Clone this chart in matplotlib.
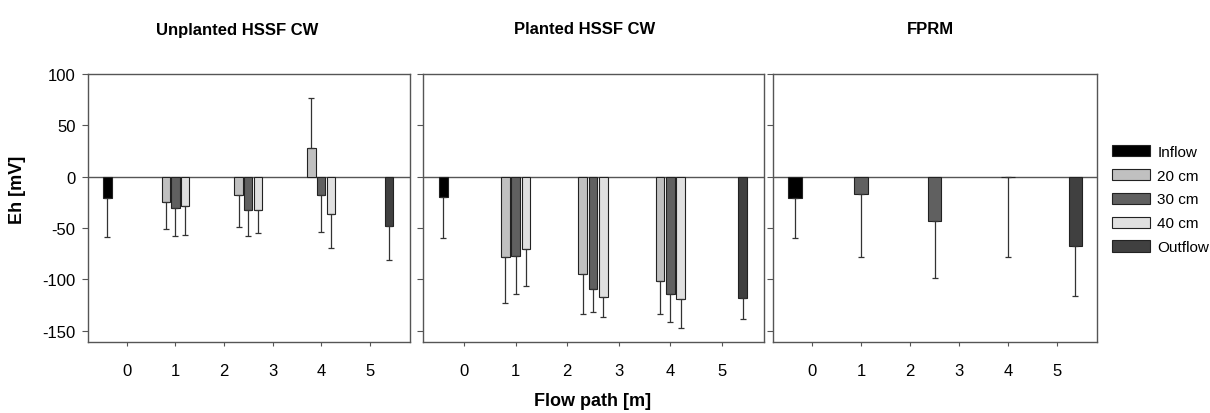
import matplotlib
matplotlib.use('Agg')
import matplotlib.pyplot as plt
from matplotlib.patches import Patch
import numpy as np

plt.rcParams['font.family'] = ['Liberation Sans Narrow', 'Liberation Sans', 'DejaVu Sans']

# Eh values (mV) and error bars
titles = ["Unplanted HSSF CW", "Planted HSSF CW", "FPRM"]
series = ["Inflow", "20 cm", "30 cm", "40 cm", "Outflow"]
xticks = [0, 1, 2, 3, 4, 5]

unpl_inflow, unpl_inflow_err = -20.5, 38.0
unpl_20 = [-24.4, -17.5, 28.2]
unpl_20_err = [26.6, 31.5, 48.8]
unpl_30 = [-30.8, -32.8, -17.5]
unpl_30_err = [27.0, 25.0, 36.4]
unpl_40 = [-28.6, -32.8, -36.7]
unpl_40_err = [28.0, 21.7, 32.5]
unpl_out, unpl_out_err = -48.1, 32.7

pl_inflow, pl_inflow_err = -20.1, 39.3
pl_20 = [-78.2, -94.8, -101.3]
pl_20_err = [45.2, 39.0, 32.5]
pl_30 = [-77.6, -109.1, -114.6]
pl_30_err = [37.0, 22.7, 27.0]
pl_40 = [-70.8, -117.5, -119.2]
pl_40_err = [35.4, 18.9, 28.5]
pl_out, pl_out_err = -118.5, 19.8

fprm_inflow, fprm_inflow_err = -20.5, 38.9
fprm_30 = [-17.2, -43.5, 0.0]
fprm_30_err = [61.4, 55.2, 78.6]
fprm_out, fprm_out_err = -67.2, 48.7

colors = {"Inflow": "#000000", "20 cm": "#c0c0c0", "30 cm": "#606060",
          "40 cm": "#e0e0e0", "Outflow": "#404040"}

group_x = np.array([1.0, 2.5, 4.0])
inflow_x = -0.4
outflow_x = 5.4


def bars(ax, x, vals, errs, color, w):
  x = np.atleast_1d(x)
  vals = np.atleast_1d(np.array(vals, dtype=float))
  errs = np.atleast_1d(np.array(errs, dtype=float))
  lo = np.where(vals <= 0, errs, 0)
  hi = np.where(vals > 0, errs, 0)
  ax.bar(x, vals, w, color=color, edgecolor="#222222", linewidth=0.8, zorder=2)
  ax.errorbar(x, vals, yerr=[lo, hi], fmt='none', ecolor="#333333",
              elinewidth=0.9, capsize=2.5, capthick=0.9, zorder=3)


fig = plt.figure(figsize=(12.1, 4.14), dpi=100)
b, h = 1 - 343 / 414, (343 - 75) / 414
ax1 = fig.add_axes([88 / 1210, b, 321.6 / 1210, h])
ax2 = fig.add_axes([422.7 / 1210, b, 341.6 / 1210, h])
ax3 = fig.add_axes([773 / 1210, b, 324 / 1210, h])

w = 0.17
bars(ax1, inflow_x, unpl_inflow, unpl_inflow_err, colors["Inflow"], w)
bars(ax1, group_x - 0.2, unpl_20, unpl_20_err, colors["20 cm"], w)
bars(ax1, group_x, unpl_30, unpl_30_err, colors["30 cm"], w)
bars(ax1, group_x + 0.2, unpl_40, unpl_40_err, colors["40 cm"], w)
bars(ax1, outflow_x, unpl_out, unpl_out_err, colors["Outflow"], w)

bars(ax2, inflow_x, pl_inflow, pl_inflow_err, colors["Inflow"], w)
bars(ax2, group_x - 0.2, pl_20, pl_20_err, colors["20 cm"], w)
bars(ax2, group_x, pl_30, pl_30_err, colors["30 cm"], w)
bars(ax2, group_x + 0.2, pl_40, pl_40_err, colors["40 cm"], w)
bars(ax2, outflow_x, pl_out, pl_out_err, colors["Outflow"], w)

w3 = 0.28
bars(ax3, -0.35, fprm_inflow, fprm_inflow_err, colors["Inflow"], w3)
bars(ax3, group_x, fprm_30, fprm_30_err, colors["30 cm"], w3)
bars(ax3, 5.38, fprm_out, fprm_out_err, colors["Outflow"], w3)

fs = 12
for i, ax in enumerate([ax1, ax2, ax3]):
  ax.axhline(0, color="#555555", linewidth=1.0, zorder=1)
  ax.set_xlim(-0.8, 5.82)
  ax.set_ylim(-161, 100)
  ax.set_xticks(xticks)
  ax.set_xticklabels([str(t) for t in xticks], fontsize=fs, family=['Liberation Sans', 'DejaVu Sans'])
  ax.set_yticks([100, 50, 0, -50, -100, -150])
  ax.tick_params(axis='x', length=3, width=0.8, pad=12, color="#555555")
  ax.tick_params(axis='y', length=4, width=0.8, pad=5, color="#555555")
  for s in ax.spines.values():
    s.set_color("#555555")
    s.set_linewidth(1.0)
  if i > 0:
    ax.set_yticklabels([])
  else:
    ax.set_yticklabels(["100", "50", "0", "-50", "-100", "-150"], fontsize=fs,
                       family=['Liberation Sans', 'DejaVu Sans'])

fig.text(237 / 1210, 1 - 30 / 414, titles[0], ha='center', va='center', fontsize=12, fontweight='bold')
fig.text(585 / 1210, 1 - 30 / 414, titles[1], ha='center', va='center', fontsize=12, fontweight='bold')
fig.text(930 / 1210, 1 - 30 / 414, titles[2], ha='center', va='center', fontsize=12, fontweight='bold')
fig.text(18 / 1210, 1 - 190 / 414, "Eh [mV]", rotation=90, ha='center', va='center',
         fontsize=13, fontweight='bold', family=['Liberation Sans', 'DejaVu Sans'])
fig.text(593 / 1210, 1 - 402 / 414, "Flow path [m]", ha='center', va='center',
         fontsize=13, fontweight='bold', family=['Liberation Sans', 'DejaVu Sans'])

handles = [Patch(facecolor=colors[s], edgecolor="#222222", linewidth=0.8) for s in series]
fig.legend(handles, series, loc='upper left', bbox_to_anchor=(1104 / 1210, 1 - 138 / 414),
           frameon=False, fontsize=11, handlelength=2.5, handleheight=0.75,
           handletextpad=0.5, labelspacing=0.65, borderpad=0)

plt.savefig("out.png", dpi=100)
